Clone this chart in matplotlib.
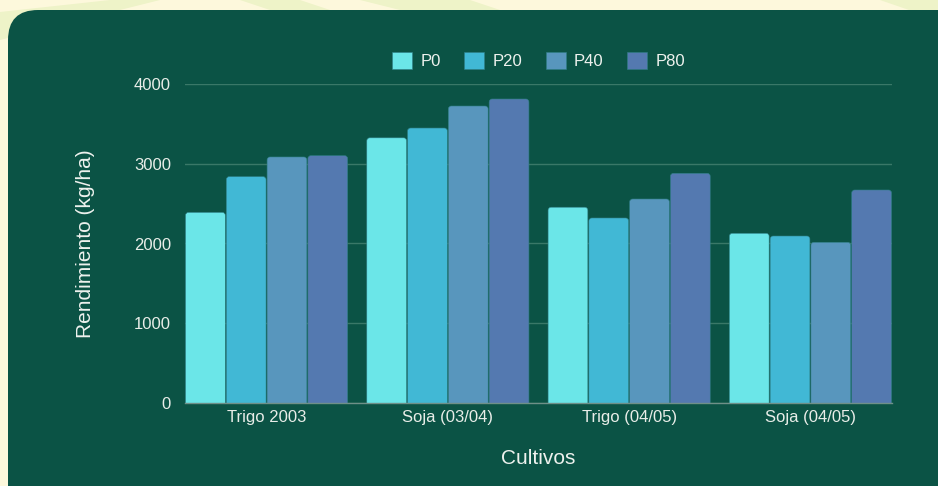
import numpy as np
import matplotlib.pyplot as plt
from matplotlib.patches import FancyBboxPatch, Polygon, Patch

plt.rcParams['font.family'] = ['Liberation Sans', 'DejaVu Sans']

# data
cultivos = ['Trigo 2003', 'Soja (03/04)', 'Trigo (04/05)', 'Soja (04/05)']
series = ['P0', 'P20', 'P40', 'P80']
p0 = [2390, 3325, 2455, 2128]
p20 = [2838, 3448, 2320, 2094]
p40 = [3085, 3724, 2558, 2015]
p80 = [3101, 3812, 2880, 2671]
values = [p0, p20, p40, p80]
colors = ['#6be6e8', '#41b8d5', '#5896bd', '#5479b0']

W, H = 938, 486
fig = plt.figure(figsize=(W / 100, H / 100), dpi=100)
fig.patch.set_facecolor('#fdf8dc')

# background in pixel coordinates
bg = fig.add_axes([0, 0, 1, 1], zorder=0)
bg.set_xlim(0, W)
bg.set_ylim(H, 0)
bg.axis('off')
for pts in [[(0, 12), (0, 40), (160, 0), (110, 0)],
            [(240, 0), (300, 0), (330, 10), (270, 10)],
            [(360, 0), (470, 0), (500, 10), (400, 10)],
            [(880, 0), (938, 0), (938, 20)]]:
    bg.add_patch(Polygon(pts, closed=True, facecolor='#eef3c8', edgecolor='none'))
bg.add_patch(FancyBboxPatch((8, 10), 1000, 560, boxstyle='round,pad=0,rounding_size=30',
                            facecolor='#0b5345', edgecolor='none'))

ax = fig.add_axes([185 / W, 1 - 403 / H, 707 / W, 319 / H], zorder=1)
ax.set_facecolor('none')

ymax = 4000
x = np.arange(len(cultivos))
step = 0.225
bw = step * 0.975
# pixel size of one data unit, for rounding the bar tops
px_x = 707 / 3.9
px_y = 319 / ymax
aspect = px_x / px_y
r = 3 / px_x
for i, vals in enumerate(values):
    for xi, v in zip(x + (i - 1.5) * step, vals):
        ax.add_patch(FancyBboxPatch((xi - bw / 2, -60), bw, v + 60,
                                    boxstyle=f'round,pad=0,rounding_size={r}',
                                    mutation_aspect=aspect, facecolor=colors[i],
                                    edgecolor='#2f7f86', linewidth=0.4, zorder=3))

ax.set_xlim(-0.45, 3.45)
ax.set_ylim(0, ymax)
ax.set_yticks([0, 1000, 2000, 3000, 4000])
ax.set_xticks(x)
ax.set_xticklabels(cultivos)
ax.tick_params(length=0, labelsize=12, colors='#e8ede8')
ax.tick_params(axis='y', pad=10)
ax.tick_params(axis='x', pad=5)
ax.grid(axis='y', color='#3a7868', linewidth=1, zorder=0)
for s in ['top', 'right', 'left']:
    ax.spines[s].set_visible(False)
ax.spines['bottom'].set_color('#6f9088')
ax.spines['bottom'].set_linewidth(1)
ax.spines['bottom'].set_zorder(4)

ax.set_ylabel('Rendimiento (kg/ha)', fontsize=15, color='#eef2ee', labelpad=28)
ax.set_xlabel('Cultivos', fontsize=15, color='#eef2ee', labelpad=17)

handles = [Patch(facecolor=c, edgecolor='#2f7f86', linewidth=0.4, label=s)
           for s, c in zip(series, colors)]
leg = ax.legend(handles=handles, loc='lower center', bbox_to_anchor=(0.5, 1.025), ncol=4,
                frameon=False, fontsize=12, handlelength=1.2, handleheight=1.2,
                handletextpad=0.5, columnspacing=1.4, borderaxespad=0)
for t in leg.get_texts():
    t.set_color('#eef2ee')

fig.savefig('out.png', dpi=100, facecolor=fig.get_facecolor())
